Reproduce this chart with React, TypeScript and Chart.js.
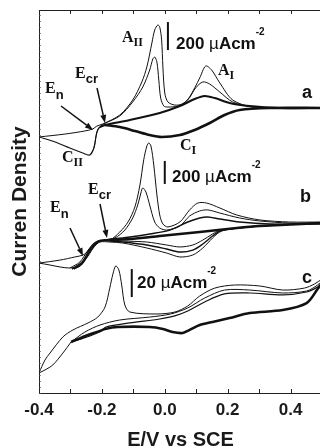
import React, { useEffect, useRef } from 'react';
import { Chart, registerables } from 'chart.js';

Chart.register(...registerables);

// ---------------- DATA (E in V vs SCE, j in µA cm^-2, per panel) ----------------
// Panel a
const A_AN1_E = [-0.40,-0.317,-0.254,-0.229,-0.216,-0.197,-0.143,-0.102,-0.073,-0.057,-0.041,-0.032,-0.022,-0.016,-0.010,-0.006,0.000,0.010,0.032,0.057,0.079,0.111,0.130,0.149,0.175,0.216,0.279,0.375,0.50];
const A_AN1_J = [-207,-186,-164,-150,-129,-114,-50,57,186,293,464,557,593,578,486,293,107,43,21,29,79,214,300,271,179,57,7,0,0];
const A_AN2_E = [-0.238,-0.225,-0.219,-0.210,-0.194,-0.143,-0.102,-0.070,-0.048,-0.038,-0.032,-0.025,-0.019,-0.013,-0.003,0.010,0.041,0.073,0.098,0.121,0.143,0.175,0.216,0.279,0.375,0.50];
const A_AN2_J = [-336,-286,-207,-143,-114,-57,43,150,271,350,364,328,200,71,14,7,14,57,143,186,171,114,43,7,0,0];
const A_AN3_E = [-0.206,-0.190,-0.111,-0.016,0.048,0.095,0.127,0.159,0.206,0.270,0.365,0.50];
const A_AN3_J = [-136,-121,-86,-36,14,64,86,71,36,14,0,0];
const A_CAT_E = [0.50,0.333,0.238,0.190,0.143,0.095,0.048,-0.010,-0.048,-0.095,-0.143,-0.190];
const A_CAT_J = [0,0,-14,-50,-107,-157,-193,-207,-193,-164,-136,-121];
const A_CATL_E = [-0.190,-0.206,-0.216,-0.222,-0.229,-0.238,-0.254,-0.302,-0.349,-0.40];
const A_CATL_J = [-121,-136,-171,-250,-307,-336,-328,-286,-243,-207];
const A_BAR_E = [0.010, 0.010];
const A_BAR_J = [414, 614];

// Panel b
const B_AN1_E = [-0.40,-0.333,-0.286,-0.260,-0.244,-0.229,-0.206,-0.175,-0.143,-0.117,-0.095,-0.079,-0.067,-0.057,-0.051,-0.044,-0.035,-0.025,-0.016,-0.006,0.010,0.048,0.079,0.105,0.133,0.175,0.229,0.302,0.397,0.50];
const B_AN1_J = [-331,-305,-278,-261,-226,-165,-131,-131,-61,26,157,348,566,687,713,687,522,261,87,9,-17,26,131,191,191,148,87,44,26,26];
const B_AN2_E = [-0.302,-0.270,-0.244,-0.222,-0.197,-0.159,-0.127,-0.102,-0.086,-0.076,-0.070,-0.060,-0.048,-0.032,-0.016,0.006,0.048,0.079,0.111,0.137,0.175,0.238,0.302,0.397,0.50];
const B_AN2_J = [-374,-322,-218,-157,-131,-113,-44,61,174,278,322,287,174,26,-26,-44,-9,78,122,131,104,61,35,17,17];
const B_AN3_E = [-0.295,-0.263,-0.238,-0.216,-0.190,-0.111,-0.048,0.016,0.073,0.111,0.137,0.175,0.238,0.333,0.50];
const B_AN3_J = [-383,-322,-209,-148,-131,-104,-78,-44,26,61,70,52,26,9,9];
const B_CAT1_E = [0.50,0.302,0.229,0.111,-0.016,-0.111,-0.175];
const B_CAT1_J = [17,-9,-26,-61,-96,-122,-131];
const B_CAT1L_E = [-0.175,-0.206,-0.222,-0.238,-0.254,-0.276,-0.302,-0.333,-0.365,-0.40];
const B_CAT1L_J = [-131,-139,-165,-218,-305,-357,-374,-365,-348,-331];
const B_CAT2_E = [0.50,0.302,0.206,0.175,0.152,0.121,0.089,0.048,0.006,-0.057,-0.133,-0.175,-0.206,-0.225,-0.244,-0.270,-0.295];
const B_CAT2_J = [17,-9,-35,-61,-113,-200,-261,-278,-244,-200,-157,-148,-148,-191,-270,-357,-383];
const B_CAT3_E = [0.50,0.302,0.206,0.175,0.152,0.121,0.089,0.048,0.006,-0.057,-0.133,-0.175,-0.206,-0.222,-0.241,-0.263,-0.289];
const B_CAT3_J = [17,-9,-35,-52,-96,-165,-218,-235,-209,-174,-148,-139,-139,-174,-244,-339,-383];
const B_CAT4_E = [0.50,0.302,0.206,0.175,0.152,0.121,0.089,0.048,0.006,-0.057,-0.133,-0.175];
const B_CAT4_J = [17,-9,-35,-44,-78,-131,-174,-191,-174,-148,-139,-131];
const B_BAR_E = [0.0, 0.0];
const B_BAR_J = [357, 557];

// Panel c
const C_AN1_E = [-0.40,-0.381,-0.365,-0.324,-0.292,-0.244,-0.213,-0.190,-0.175,-0.165,-0.156,-0.146,-0.137,-0.127,-0.111,-0.025,0.032,0.073,0.111,0.159,0.222,0.302,0.375,0.444,0.476,0.50];
const C_AN1_J = [-37.8,-28.6,-23.6,-12.1,-7.1,-2.1,2.1,9.3,22.8,32.8,38.6,35.7,25.0,10.7,5.7,4.3,5.7,10.0,17.1,22.8,25.0,24.3,21.4,22.8,25.7,29.3];
const C_AN2_E = [-0.298,-0.254,-0.206,-0.143,-0.048,0.019,0.073,0.127,0.190,0.270,0.375,0.451,0.486,0.50];
const C_AN2_J = [-15.7,-8.6,-3.6,0,2.1,4.3,8.6,15.7,21.4,21.4,19.3,20.7,25.0,27.9];
const C_AN3_E = [-0.298,-0.238,-0.203,-0.187,-0.111,-0.016,0.032,0.073,0.127,0.190,0.270,0.375,0.451,0.486,0.50];
const C_AN3_J = [-15.7,-11.4,-7.9,-5.0,-2.1,0.7,2.9,6.4,12.9,18.6,19.3,17.9,20.0,23.6,26.4];
const C_CAT_E = [0.50,0.486,0.451,0.375,0.270,0.206,0.152,0.111,0.079,0.057,0.025,-0.006,-0.048,-0.149,-0.190,-0.206,-0.244,-0.298];
const C_CAT_J = [26.4,22.1,12.1,7.1,5.0,1.4,-1.4,-3.6,-7.1,-9.3,-8.6,-6.4,-5.0,-5.0,-6.4,-7.9,-10.7,-15.7];
const C_TAIL_E = [-0.298,-0.324,-0.356,-0.381,-0.40];
const C_TAIL_J = [-15.7,-23.6,-32.1,-35.7,-37.8];
const C_BAR_E = [-0.105, -0.105];
const C_BAR_J = [16.4, 36.4];

// Axis ticks
const X_LABEL_TICKS = [-0.4, -0.2, 0.0, 0.2, 0.4];
const X_MINOR_TICKS = [-0.4, -0.3, -0.2, -0.1, 0.0, 0.1, 0.2, 0.3, 0.4, 0.5];

// ---------------- layout / style config ----------------
// each panel is stacked on a common offset axis: y = offset + j * gain
const PANEL: Record<string, { offset: number; gain: number }> = {
  a: { offset: 285, gain: 0.14 },
  b: { offset: 168, gain: 0.115 },
  c: { offset: 73, gain: 1.4 },
};
const Y_MIN = 0;
const Y_MAX = 383;

const CURVES: { p: string; e: number[]; j: number[]; w: number; t?: number }[] = [
  { p: 'a', e: A_AN1_E, j: A_AN1_J, w: 1 },
  { p: 'a', e: A_AN2_E, j: A_AN2_J, w: 1 },
  { p: 'a', e: A_AN3_E, j: A_AN3_J, w: 2 },
  { p: 'a', e: A_CAT_E, j: A_CAT_J, w: 2.6 },
  { p: 'a', e: A_CATL_E, j: A_CATL_J, w: 1.1 },
  { p: 'a', e: A_BAR_E, j: A_BAR_J, w: 2, t: 0 },
  { p: 'b', e: B_AN1_E, j: B_AN1_J, w: 1 },
  { p: 'b', e: B_AN2_E, j: B_AN2_J, w: 1 },
  { p: 'b', e: B_AN3_E, j: B_AN3_J, w: 1.4 },
  { p: 'b', e: B_CAT1_E, j: B_CAT1_J, w: 2.4 },
  { p: 'b', e: B_CAT1L_E, j: B_CAT1L_J, w: 1 },
  { p: 'b', e: B_CAT2_E, j: B_CAT2_J, w: 1 },
  { p: 'b', e: B_CAT3_E, j: B_CAT3_J, w: 1.4 },
  { p: 'b', e: B_CAT4_E, j: B_CAT4_J, w: 1 },
  { p: 'b', e: B_BAR_E, j: B_BAR_J, w: 2, t: 0 },
  { p: 'c', e: C_AN1_E, j: C_AN1_J, w: 1 },
  { p: 'c', e: C_AN2_E, j: C_AN2_J, w: 1 },
  { p: 'c', e: C_AN3_E, j: C_AN3_J, w: 1.2 },
  { p: 'c', e: C_CAT_E, j: C_CAT_J, w: 2.6 },
  { p: 'c', e: C_TAIL_E, j: C_TAIL_J, w: 1 },
  { p: 'c', e: C_BAR_E, j: C_BAR_J, w: 2, t: 0 },
];

const SANS = '"Liberation Sans", Arial, Helvetica, sans-serif';
const SERIF = '"Liberation Serif", "Times New Roman", serif';
const F_SERIF = `bold 16px ${SERIF}`;
const F_SERIF_SUB = `bold 12px ${SERIF}`;
const F_SANS_SUB = `bold 13px ${SANS}`;
const F_SCALE = `bold 17px ${SANS}`;
const F_MU = `normal 17px ${SANS}`;
const F_SUP = `bold 10px ${SANS}`;
const F_PANEL = `bold 18px ${SANS}`;

type Part = [string, string, number];
const LABELS: { x: number; y: number; parts: Part[] }[] = [
  // panel a
  { x: 45, y: 93, parts: [['E', F_SERIF, 0], ['n', F_SANS_SUB, 6]] },
  { x: 75, y: 78, parts: [['E', F_SERIF, 0], ['cr', F_SANS_SUB, 5]] },
  { x: 122, y: 42, parts: [['A', F_SERIF, 0], ['II', F_SERIF_SUB, 4]] },
  { x: 218, y: 75, parts: [['A', F_SERIF, 0], ['I', F_SERIF_SUB, 4]] },
  { x: 180, y: 150, parts: [['C', F_SERIF, 0], ['I', F_SERIF_SUB, 4]] },
  { x: 62, y: 162, parts: [['C', F_SERIF, 0], ['II', F_SERIF_SUB, 4]] },
  { x: 176, y: 49, parts: [['200 ', F_SCALE, 0], ['µ', F_MU, 0], ['Acm', F_SCALE, 0], ['-2', F_SUP, -14]] },
  { x: 302, y: 98, parts: [['a', F_PANEL, 0]] },
  // panel b
  { x: 50, y: 212, parts: [['E', F_SERIF, 0], ['n', F_SANS_SUB, 6]] },
  { x: 88, y: 194, parts: [['E', F_SERIF, 0], ['cr', F_SANS_SUB, 5]] },
  { x: 172, y: 182, parts: [['200 ', F_SCALE, 0], ['µ', F_MU, 0], ['Acm', F_SCALE, 0], ['-2', F_SUP, -14]] },
  { x: 300, y: 202, parts: [['b', F_PANEL, 0]] },
  // panel c
  { x: 137, y: 288, parts: [['20 ', F_SCALE, 0], ['µ', F_MU, 0], ['Acm', F_SCALE, 0], ['-2', F_SUP, -14]] },
  { x: 302, y: 283, parts: [['c', F_PANEL, 0]] },
];

const ARROWS: [number, number, number, number][] = [
  [61, 106, 93, 130],
  [97, 88, 105, 123],
  [70, 228, 83, 256],
  [100, 204, 107, 238],
];

const overlay = {
  id: 'overlay',
  afterDraw(chart: any) {
    const { ctx, chartArea: ca, scales } = chart;
    const xs = scales.x;
    const ys = scales.y;
    ctx.save();
    ctx.strokeStyle = '#222';
    ctx.lineWidth = 1;
    // frame
    ctx.beginPath();
    ctx.moveTo(ca.left + 0.5, ca.top + 0.5);
    ctx.lineTo(ca.right, ca.top + 0.5);
    ctx.moveTo(ca.left + 0.5, ca.top);
    ctx.lineTo(ca.left + 0.5, ca.bottom + 0.5);
    ctx.moveTo(ca.left, ca.bottom + 0.5);
    ctx.lineTo(ca.right, ca.bottom + 0.5);
    ctx.stroke();
    // x ticks (inward, top & bottom)
    ctx.beginPath();
    for (const v of X_MINOR_TICKS) {
      const px = Math.round(xs.getPixelForValue(v)) + 0.5;
      ctx.moveTo(px, ca.bottom);
      ctx.lineTo(px, ca.bottom - 4);
      ctx.moveTo(px, ca.top);
      ctx.lineTo(px, ca.top + 4);
    }
    ctx.stroke();
    // small y ticks on left
    ctx.beginPath();
    ctx.lineWidth = 0.7;
    ctx.strokeStyle = '#555';
    for (let v = Y_MIN; v <= Y_MAX; v += 6) {
      const py = Math.round(ys.getPixelForValue(v)) + 0.5;
      ctx.moveTo(ca.left, py);
      ctx.lineTo(ca.left + 2, py);
    }
    ctx.stroke();
    // arrows
    ctx.strokeStyle = '#111';
    ctx.fillStyle = '#111';
    ctx.lineWidth = 1.5;
    for (const [x1, y1, x2, y2] of ARROWS) {
      const ang = Math.atan2(y2 - y1, x2 - x1);
      const hl = 8, hw = 3;
      const bx = x2 - hl * Math.cos(ang), by = y2 - hl * Math.sin(ang);
      ctx.beginPath();
      ctx.moveTo(x1, y1);
      ctx.lineTo(bx, by);
      ctx.stroke();
      ctx.beginPath();
      ctx.moveTo(x2, y2);
      ctx.lineTo(bx + hw * Math.sin(ang), by - hw * Math.cos(ang));
      ctx.lineTo(bx - hw * Math.sin(ang), by + hw * Math.cos(ang));
      ctx.closePath();
      ctx.fill();
    }
    // labels
    ctx.fillStyle = '#111';
    ctx.textBaseline = 'alphabetic';
    ctx.textAlign = 'left';
    for (const l of LABELS) {
      let cx = l.x;
      for (const [text, font, dy] of l.parts) {
        ctx.font = font;
        ctx.fillText(text, cx, l.y + dy);
        cx += ctx.measureText(text).width;
      }
    }
    ctx.restore();
  },
};

export default function App() {
  const ref = useRef<HTMLCanvasElement>(null);
  useEffect(() => {
    const datasets = CURVES.map((c) => {
      const { offset, gain } = PANEL[c.p];
      return {
        data: c.e.map((e, i) => ({ x: e, y: offset + c.j[i] * gain })),
        showLine: true,
        borderColor: '#111',
        borderWidth: c.w,
        pointRadius: 0,
        tension: c.t ?? 0.3,
        fill: false,
      };
    });
    const chart = new Chart(ref.current as HTMLCanvasElement, {
      type: 'scatter',
      data: { datasets },
      plugins: [overlay],
      options: {
        animation: false,
        responsive: false,
        devicePixelRatio: 1,
        layout: { padding: { left: 0, top: 10, right: 10, bottom: 0 } },
        plugins: { legend: { display: false }, tooltip: { enabled: false } },
        scales: {
          x: {
            type: 'linear',
            min: -0.4,
            max: 0.5,
            afterBuildTicks: (s: any) => {
              s.ticks = X_LABEL_TICKS.map((v) => ({ value: v }));
            },
            afterFit: (s: any) => {
              s.height = 54;
            },
            ticks: {
              autoSkip: false,
              maxRotation: 0,
              padding: 7,
              color: '#1a1a1a',
              font: { family: SANS, size: 17, weight: 'bold' },
              callback: (v: any) => Number(v).toFixed(1),
            },
            grid: { display: false, drawTicks: false },
            border: { display: false },
            title: {
              display: true,
              text: 'E/V vs SCE',
              color: '#1a1a1a',
              font: { family: SANS, size: 20, weight: 'bold', lineHeight: 1 },
              padding: { top: 0, bottom: -3 },
            },
          },
          y: {
            type: 'linear',
            min: Y_MIN,
            max: Y_MAX,
            afterFit: (s: any) => {
              s.width = 39;
            },
            ticks: { display: false },
            grid: { display: false, drawTicks: false },
            border: { display: false },
            title: {
              display: true,
              text: 'Curren Density',
              color: '#1a1a1a',
              font: { family: SANS, size: 21, weight: 'bold', lineHeight: 1 },
              padding: { top: 10, bottom: 0 },
            },
          },
        },
      } as any,
    });
    return () => chart.destroy();
  }, []);
  return (
    <div
      style={{
        position: 'fixed',
        left: 0,
        top: 0,
        width: 320,
        height: 447,
        overflow: 'hidden',
        background: '#fff',
      }}
    >
      <canvas ref={ref} width={332} height={447} style={{ display: 'block', width: 332, height: 447 }} />
    </div>
  );
}
